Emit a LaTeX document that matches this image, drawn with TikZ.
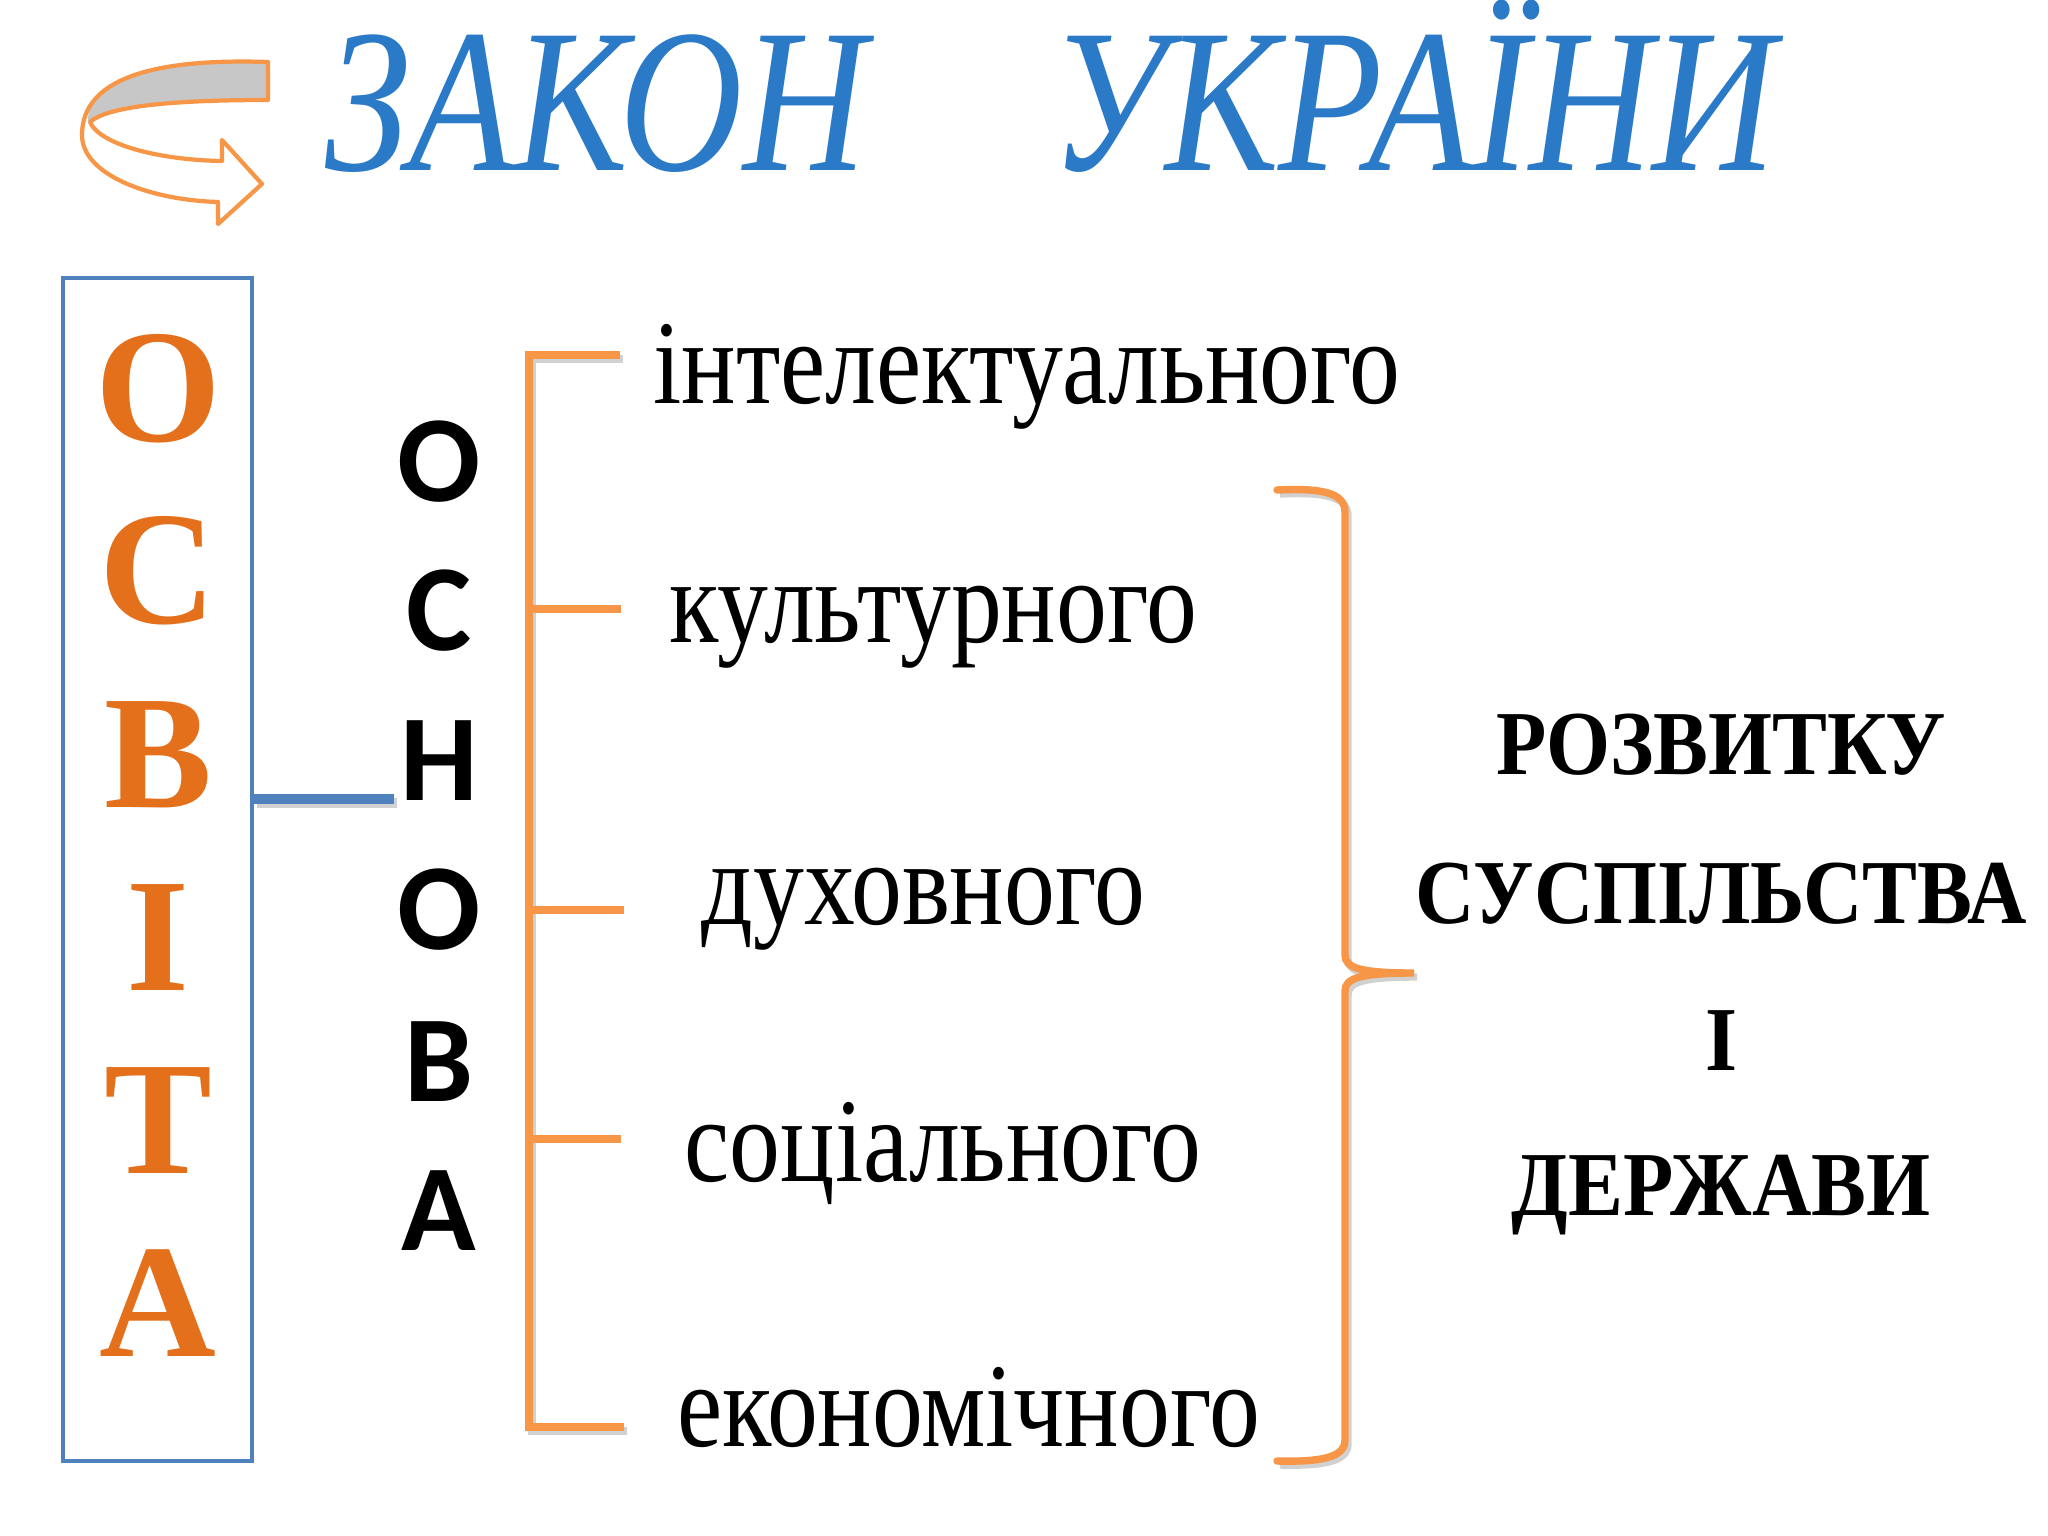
\documentclass[tikz,border=0pt]{standalone}
\usepackage{fontspec}
\setmainfont{Liberation Serif}
\newfontfamily\calfont{Carlito}
\definecolor{orletter}{RGB}{228,112,28}
\definecolor{orline}{RGB}{247,150,70}
\definecolor{boxblue}{RGB}{79,129,189}
\definecolor{titleblue}{RGB}{42,122,200}
\tikzset{
  boxletter/.style={inner sep=0pt, text=orletter, font=\fontsize{46}{46}\selectfont\bfseries},
  osnletter/.style={inner sep=0pt, text=black, font=\calfont\fontsize{35}{35}\selectfont\bfseries},
  word/.style={inner sep=0pt, anchor=base west, font=\fontsize{34}{34}\selectfont},
  goal/.style={inner sep=0pt, anchor=base, font=\fontsize{26}{26}\selectfont\bfseries},
  titletext/.style={inner sep=0pt, anchor=base, text=titleblue, font=\fontsize{54}{54}\selectfont\itshape},
  brk/.style={draw=orline, line width=2.1pt},
  brkshadow/.style={draw=black!18, line width=2.1pt},
}
\begin{document}
\begin{tikzpicture}[x=0.01cm, y=-0.01cm]
\useasboundingbox (0,0) rectangle (2048,1536);
\fill[white] (0,0) rectangle (2048,1536);

% curved arrow icon
\fill[black!22] (268,62) .. controls (150,58) and (86,80) .. (88,122) .. controls (110,104) and (190,100) .. (268,100) -- cycle;
\draw[orline, line width=1.2pt, line join=round]
  (268,62) .. controls (150,58) and (82,80) .. (82,135)
  .. controls (82,175) and (150,200) .. (218,202)
  -- (218,224) -- (262,184) -- (222,140) -- (222,161)
  .. controls (160,160) and (100,145) .. (90,122)
  .. controls (110,104) and (190,100) .. (268,100) -- cycle;

% title
\node[titletext] (t1) at (596,170) {\scalebox{0.9}[1.08]{ЗАКОН}};
\node[titletext] (t2) at (1413,170) {\scalebox{0.9}[1.08]{УКРАЇНИ}};

% blue box
\node[draw=boxblue, line width=1.1pt, minimum width=1.89cm, minimum height=11.83cm, inner sep=0pt] (box) at (157.5,869.5) {};
\node[boxletter] (b1) at (158,389) {О};
\node[boxletter] (b2) at (158,571) {С};
\node[boxletter] (b3) at (158,755) {В};
\node[boxletter] (b4) at (158,938) {І};
\node[boxletter] (b5) at (158,1121) {Т};
\node[boxletter] (b6) at (158,1303) {А};

% connector
\coordinate (cend) at (394,799);
\coordinate (cbox) at (box.east |- cend);
\draw[black!18, line width=3pt] ([shift={(3,4)}]cbox) -- ([shift={(3,4)}]cend);
\draw[boxblue, line width=3pt] (cbox) -- (cend);

% ОСНОВА
\node[osnletter] (o1) at (439,462) {О};
\node[osnletter] (o2) at (439,611) {С};
\node[osnletter] (o3) at (439,761) {Н};
\node[osnletter] (o4) at (439,910) {О};
\node[osnletter] (o5) at (439,1062) {В};
\node[osnletter] (o6) at (439,1211) {А};

% left bracket
\coordinate (s1) at (529,355);
\coordinate (s2) at (529,609);
\coordinate (s3) at (529,910);
\coordinate (s4) at (529,1139);
\coordinate (s5) at (529,1427);
\begin{scope}[shift={(3,4)}]
\draw[brkshadow] (620,355) -- (529,355) -- (529,1427) -- (624,1427);
\draw[brkshadow] (s2) -- +(92,0);
\draw[brkshadow] (s3) -- +(95,0);
\draw[brkshadow] (s4) -- +(92,0);
\end{scope}
\draw[brk] (620,355) -- (s1) -- (s5) -- (624,1427);
\draw[brk] (s2) -- +(92,0);
\draw[brk] (s3) -- +(95,0);
\draw[brk] (s4) -- +(92,0);

% words
\node[word] (w1) at (653,403) {\scalebox{0.85}[1]{інтелектуального}};
\node[word] (w2) at (669,642) {\scalebox{0.85}[1]{культурного}};
\node[word] (w3) at (701,924) {\scalebox{0.85}[1]{духовного}};
\node[word] (w4) at (684,1181) {\scalebox{0.85}[1]{соціального}};
\node[word] (w5) at (677,1446) {\scalebox{0.85}[1]{економічного}};

% right brace
\coordinate (tip) at (1414,973);
\begin{scope}[shift={(3,4)}]
\draw[brkshadow]
  (1277,490) .. controls (1320,488) and (1345,492) .. (1345,512)
  -- (1345,955) .. controls (1345,968) and (1360,973) .. (1414,973)
  .. controls (1360,973) and (1345,978) .. (1345,991)
  -- (1345,1440) .. controls (1345,1458) and (1320,1462) .. (1277,1461);
\end{scope}
\draw[brk, line cap=round]
  (1277,490) .. controls (1320,488) and (1345,492) .. (1345,512)
  -- (1345,955) .. controls (1345,968) and (1360,973) .. (tip)
  .. controls (1360,973) and (1345,978) .. (1345,991)
  -- (1345,1440) .. controls (1345,1458) and (1320,1462) .. (1277,1461);

% right text
\node[goal] (g1) at (1721,774) {\scalebox{0.9}[1]{РОЗВИТКУ}};
\node[goal] (g2) at (1721,923) {\scalebox{0.9}[1]{СУСПІЛЬСТВА}};
\node[goal] (g3) at (1721,1070) {\scalebox{0.9}[1]{І}};
\node[goal] (g4) at (1721,1215) {\scalebox{0.9}[1]{ДЕРЖАВИ}};
\end{tikzpicture}
\end{document}
